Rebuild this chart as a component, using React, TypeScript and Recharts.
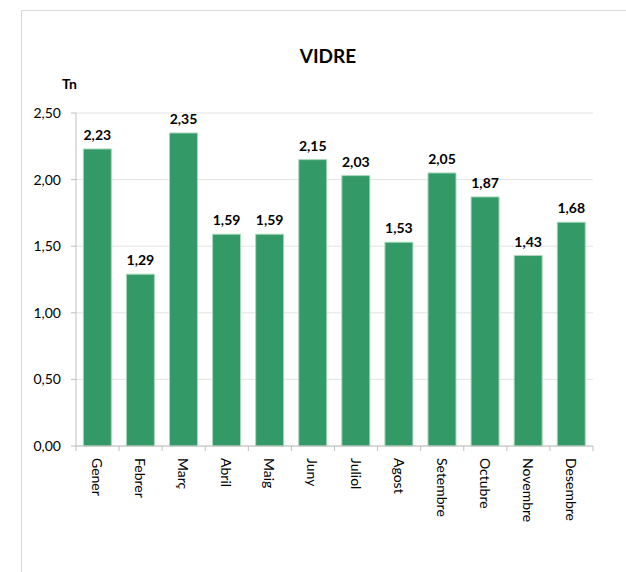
import React from "react";
import { BarChart, Bar, XAxis, YAxis, CartesianGrid, LabelList } from "recharts";

const months = ["Gener", "Febrer", "Març", "Abril", "Maig", "Juny", "Juliol", "Agost", "Setembre", "Octubre", "Novembre", "Desembre"];
const values = [2.23, 1.29, 2.35, 1.59, 1.59, 2.15, 2.03, 1.53, 2.05, 1.87, 1.43, 1.68];
const yTicks = [0, 0.5, 1, 1.5, 2, 2.5];
const title = "VIDRE";
const unit = "Tn";

const data = months.map((m, i) => ({ month: m, value: values[i] }));

const FONT = "Lato, 'Open Sans', sans-serif";
const fmt = (v: number) => v.toFixed(2).replace(".", ",");

const XTick = (props: any) => {
  const { x, y, payload, index, visibleTicksCount } = props;
  const half = payload && payload.offset ? payload.offset : 21.5;
  const ty = y + 12;
  return (
    <g>
      <line x1={x - half} x2={x - half} y1={y} y2={y + 5} stroke="#bfbfbf" strokeWidth={1} />
      {index === visibleTicksCount - 1 && (
        <line x1={x + half} x2={x + half} y1={y} y2={y + 5} stroke="#bfbfbf" strokeWidth={1} />
      )}
      <text
        x={x}
        y={ty}
        transform={`rotate(90, ${x}, ${ty})`}
        textAnchor="start"
        dominantBaseline="central"
        fontFamily={FONT}
        fontSize={14}
        fill="#000"
      >
        {payload.value}
      </text>
    </g>
  );
};

export default function App() {
  return (
    <div style={{ position: "absolute", left: 0, top: 0, width: 626, height: 572, background: "#fff", overflow: "hidden" }}>
      <div
        style={{
          position: "absolute",
          left: 21,
          top: 10,
          width: 605,
          height: 562,
          borderTop: "1px solid #d9d9d9",
          borderLeft: "1px solid #d9d9d9",
        }}
      />
      <div
        style={{
          position: "absolute",
          left: 0,
          width: 656,
          top: 44,
          textAlign: "center",
          fontFamily: FONT,
          fontWeight: 700,
          fontSize: 19,
          color: "#000",
        }}
      >
        {title}
      </div>
      <div
        style={{
          position: "absolute",
          left: 62,
          top: 75,
          fontFamily: FONT,
          fontWeight: 700,
          fontSize: 14,
          color: "#000",
        }}
      >
        {unit}
      </div>
      <div style={{ position: "absolute", left: 0, top: 0 }}>
        <BarChart
          width={626}
          height={572}
          data={data}
          margin={{ top: 113, right: 33, bottom: 0, left: 0 }}
          barCategoryGap="17%"
        >
          <CartesianGrid vertical={false} stroke="#e3e3e3" />
          <XAxis
            dataKey="month"
            interval={0}
            height={126}
            tickSize={0}
            tickMargin={0}
            tickLine={false}
            axisLine={{ stroke: "#bfbfbf" }}
            tick={<XTick />}
          />
          <YAxis
            width={76}
            domain={[0, 2.5]}
            ticks={yTicks}
            tickFormatter={fmt}
            tickSize={5}
            tickMargin={10}
            axisLine={{ stroke: "#bfbfbf" }}
            tickLine={{ stroke: "#bfbfbf" }}
            tick={{ fontFamily: FONT, fontSize: 14, fill: "#000" }}
            interval={0}
          />
          <Bar dataKey="value" fill="#339966" stroke="#a9d8bb" strokeWidth={1} isAnimationActive={false}>
            <LabelList
              dataKey="value"
              position="top"
              offset={9}
              formatter={(v: any) => fmt(Number(v))}
              style={{ fontFamily: FONT, fontWeight: 700, fontSize: 14, fill: "#000" }}
            />
          </Bar>
        </BarChart>
      </div>
    </div>
  );
}
